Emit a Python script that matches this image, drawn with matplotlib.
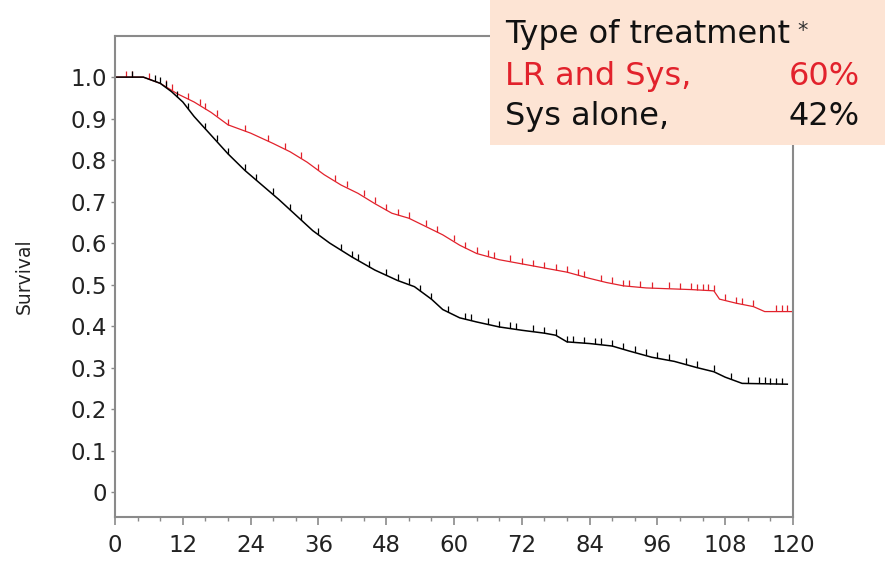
import numpy as np
import matplotlib.pyplot as plt
from matplotlib.patches import Rectangle
from matplotlib.ticker import MultipleLocator

# Kaplan-Meier estimates (months, survival)
lr_sys_t = [0, 5, 8, 11, 14, 17, 20, 24, 28, 31, 34, 37, 40, 43, 46, 49, 52, 55,
            58, 61, 64, 68, 72, 76, 80, 84, 87, 90, 94, 98, 102, 106, 107, 110,
            113, 115, 120]
lr_sys_s = [1.0, 1.0, 0.985, 0.96, 0.94, 0.915, 0.885, 0.865, 0.84, 0.82, 0.795,
            0.765, 0.74, 0.72, 0.695, 0.672, 0.66, 0.64, 0.62, 0.595, 0.575, 0.56,
            0.55, 0.54, 0.53, 0.515, 0.505, 0.497, 0.492, 0.49, 0.488, 0.485,
            0.465, 0.455, 0.447, 0.435, 0.435]

sys_t = [0, 5, 8, 10, 12, 14, 17, 20, 23, 26, 29, 31, 33, 35, 38, 42, 46, 50, 53,
         56, 58, 61, 64, 68, 72, 76, 78, 80, 84, 88, 91, 95, 99, 103, 106, 108,
         111, 119]
sys_s = [1.0, 1.0, 0.985, 0.965, 0.94, 0.905, 0.86, 0.815, 0.775, 0.74, 0.705,
         0.68, 0.655, 0.63, 0.6, 0.566, 0.535, 0.51, 0.495, 0.465, 0.44, 0.42,
         0.41, 0.398, 0.39, 0.383, 0.378, 0.362, 0.358, 0.352, 0.34, 0.325,
         0.315, 0.3, 0.29, 0.277, 0.262, 0.26]

# censored observations
lr_sys_cens = [2, 3, 6, 9, 10, 13, 15, 16, 18, 20, 23, 27, 30, 33, 36, 39, 41, 44,
               46, 48, 50, 52, 55, 57, 60, 62, 64, 66, 67, 70, 72, 74, 76, 78, 80,
               82, 83, 86, 88, 90, 91, 93, 95, 98, 100, 102, 103, 104, 105, 106,
               108, 110, 111, 113, 117, 118, 119]
sys_cens = [3, 7, 8, 9, 11, 13, 16, 18, 20, 23, 25, 28, 31, 33, 36, 40, 42, 43, 45,
            48, 50, 52, 54, 56, 59, 62, 63, 66, 68, 70, 71, 74, 76, 78, 80, 81, 83,
            85, 86, 88, 90, 92, 94, 96, 98, 101, 103, 106, 109, 112, 114, 115, 116,
            117, 118]

red = "#e2222c"
grey = "#8a8a8a"

fig = plt.figure(figsize=(8.85, 5.63), dpi=100)
ax = fig.add_axes([0.130, 0.0817, 0.766, 0.8543])

for t, s, cens, col, lw in [(lr_sys_t, lr_sys_s, lr_sys_cens, red, 0.9),
                            (sys_t, sys_s, sys_cens, "black", 1.1)]:
    ax.plot(t, s, color=col, linewidth=lw)
    # tick marks sit on top of the curve
    ax.plot(cens, np.interp(cens, t, s) + 0.008, linestyle="none", marker="|",
            markersize=5, markeredgewidth=0.9, color=col)

ax.set_xlim(0, 120)
ax.set_ylim(-0.06, 1.099)
ax.xaxis.set_major_locator(MultipleLocator(12))
ax.xaxis.set_minor_locator(MultipleLocator(4))
yt = np.round(np.arange(0, 1.01, 0.1), 1)
ax.set_yticks(yt)
ax.set_yticklabels(["0"] + [f"{v:.1f}" for v in yt[1:]])

for sp in ax.spines.values():
    sp.set_color(grey)
    sp.set_linewidth(1.5)
ax.tick_params(axis="x", which="major", length=6, width=1.2, color=grey,
               labelsize=16.5, pad=6, labelcolor="#222222")
ax.tick_params(axis="x", which="minor", length=3, width=1.0, color=grey)
ax.tick_params(axis="y", length=3, width=1.0, color=grey, labelsize=16.5, pad=3,
               labelcolor="#222222")
ax.set_ylabel("Survival", fontsize=13.5, color="#222222")
ax.yaxis.set_label_coords(-0.12, 0.5)

# legend panel
fig.patches.append(Rectangle((0.554, 0.742), 0.446, 0.258, transform=fig.transFigure,
                             facecolor="#fde4d4", edgecolor="none", zorder=1))
fs = 23
fig.text(0.5706, 0.9236, "Type of treatment", fontsize=fs, va="baseline",
         color="#111111", zorder=3)
fig.text(0.901, 0.935, "*", fontsize=15, va="baseline", color="#333333", zorder=3)
fig.text(0.5706, 0.849, "LR and Sys,", fontsize=fs, va="baseline", color=red,
         zorder=3)
fig.text(0.9718, 0.849, "60%", fontsize=fs, va="baseline", ha="right", color=red,
         zorder=3)
fig.text(0.5706, 0.778, "Sys alone,", fontsize=fs, va="baseline", color="#111111",
         zorder=3)
fig.text(0.9718, 0.778, "42%", fontsize=fs, va="baseline", ha="right",
         color="#111111", zorder=3)

fig.savefig("out.png", dpi=100)
